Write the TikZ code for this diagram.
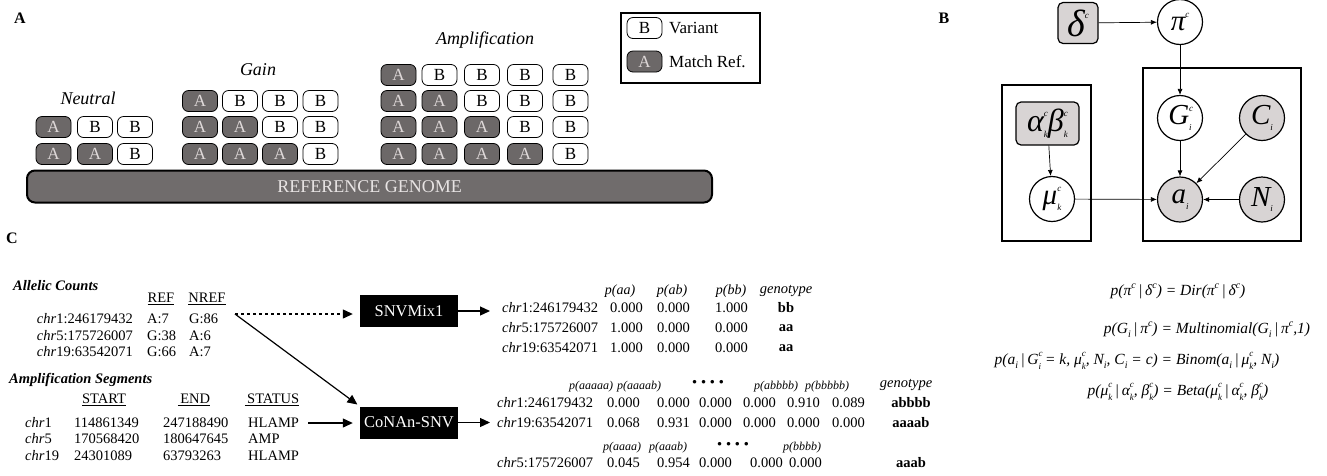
\documentclass[tikz,border=0pt]{standalone}
\usepackage{fontspec}
\setmainfont{Liberation Serif}
\usetikzlibrary{arrows.meta}
\definecolor{agray}{RGB}{108,104,104}
\definecolor{alight}{RGB}{222,216,216}
\definecolor{refgray}{RGB}{112,108,108}
\definecolor{reftext}{RGB}{232,228,228}
\definecolor{bgray}{RGB}{216,212,212}
\newcommand{\bsupsub}[2]{\rlap{\raisebox{0.45em}{\fontsize{9}{9}\selectfont #1}}\raisebox{-0.2em}{\fontsize{9}{9}\selectfont #2}}
\newcommand{\bsup}[1]{\raisebox{0.45em}{\fontsize{9}{9}\selectfont #1}}
\newcommand{\bsub}[1]{\raisebox{-0.2em}{\fontsize{9}{9}\selectfont #1}}
\newcommand{\esup}[1]{\raisebox{0.45em}{\fontsize{10}{10}\selectfont #1}}
\newcommand{\esub}[1]{\raisebox{-0.25em}{\fontsize{10}{10}\selectfont #1}}
\newcommand{\ess}[2]{\rlap{\raisebox{0.5em}{\fontsize{9}{9}\selectfont #1}}\raisebox{-0.3em}{\fontsize{9}{9}\selectfont #2}}
\begin{document}
\begin{tikzpicture}[x=1pt,y=-1pt,
  boxB/.style={draw=black, line width=0.8pt, rounded corners=6pt, minimum width=35pt, minimum height=21pt, inner sep=0pt, fill=white, font=\fontsize{17}{17}\selectfont},
  boxA/.style={boxB, fill=agray, text=alight},
  lbl/.style={font=\fontsize{16}{16}\selectfont\bfseries, inner sep=0pt},
  catlbl/.style={font=\fontsize{18}{18}\selectfont\itshape, inner sep=0pt},
  circ/.style={circle, draw, line width=1.2pt, minimum size=45pt, inner sep=0pt, fill=white, font=\fontsize{29}{29}\selectfont\itshape},
  obs/.style={circ, fill=bgray},
  plate/.style={draw, line width=2.8pt, inner sep=0pt},
  barr/.style={-{Latex[length=6pt,width=5pt]}, line width=0.7pt},
  ct/.style={font=\fontsize{14.5}{14.5}\selectfont, inner sep=0pt},
  hd/.style={font=\fontsize{12}{12}\selectfont\itshape, inner sep=0pt},
  gt/.style={font=\fontsize{14.5}{14.5}\selectfont\bfseries, inner sep=0pt},
  tool/.style={fill=black, text=white, minimum width=98pt, minimum height=32pt, inner sep=0pt, font=\fontsize{16.5}{16.5}\selectfont},
  carr/.style={-{Triangle[length=10pt,width=9pt]}, line width=1.2pt},
  eq/.style={font=\fontsize{15.5}{15.5}\selectfont\itshape, inner sep=0pt}]
\useasboundingbox (0,0) rectangle (1327,475);
% ---------------- Panel A ----------------
\node[lbl] (labA) at (20,18) {A};
\node[catlbl] (neutral) at (88,98) {Neutral};
\node[catlbl] (gain) at (258,70) {Gain};
\node[catlbl] (amp) at (485,40) {Amplification};
\foreach \r/\y in {1/127,2/154}
  \foreach \c/\x in {1/53.5,2/95,3/135}{
    \ifnum\c>\r \def\l{B}\else\def\l{A}\fi
    \node[box\l] (ne-\r-\c) at (\x,\y) {\l};}
\foreach \r/\y in {1/101,2/127,3/154}
  \foreach \c/\x in {1/200,2/240,3/280,4/320.5}{
    \ifnum\c>\r \def\l{B}\else\def\l{A}\fi
    \node[box\l] (ga-\r-\c) at (\x,\y) {\l};}
\foreach \r/\y in {1/75,2/101,3/127,4/154}
  \foreach \c/\x in {1/398.5,2/439.5,3/482,4/525,5/570.5}{
    \ifnum\c>\r \def\l{B}\else\def\l{A}\fi
    \node[box\l] (am-\r-\c) at (\x,\y) {\l};}
\node[draw=black, line width=2pt, rounded corners=8pt, fill=refgray, text=reftext,
      minimum width=685pt, minimum height=32pt, inner sep=0pt,
      font=\fontsize{18}{18}\selectfont] (ref) at (369.5,186.5) {REFERENCE GENOME};
\node[draw=black, line width=1.5pt, minimum width=139pt, minimum height=70pt, inner sep=0pt] (legend) at (690.5,48) {};
\node[boxB] (legB) at (644.5,28) {B};
\node[boxA] (legA) at (644.5,61.5) {A};
\node[anchor=west, inner sep=0pt, font=\fontsize{17}{17}\selectfont] (legBt) at (669,28) {Variant};
\node[anchor=west, inner sep=0pt, font=\fontsize{17}{17}\selectfont] (legAt) at (669,61.5) {Match Ref.};
% ---------------- Panel B ----------------
\node[lbl] (labB) at (944,18) {B};
\node[plate, minimum width=158pt, minimum height=173pt] (plateR) at (1222,154.5) {};
\node[plate, minimum width=89pt, minimum height=156pt] (plateL) at (1046.5,163) {};
\node[draw, line width=1.2pt, rounded corners=5pt, fill=bgray, minimum width=40pt, minimum height=41pt, inner sep=0pt,
      font=\fontsize{38}{38}\selectfont\itshape] (delta) at (1078,23) {δ\bsup{c}};
\node[circ] (pi) at (1180,22) {π\bsup{c}};
\node[circ] (G) at (1180,118) {G\bsupsub{c}{i}};
\node[obs] (C) at (1262,118) {C\bsub{i}};
\node[obs] (a) at (1180,199.5) {a\bsub{i}};
\node[obs] (N) at (1262,199.5) {N\bsub{i}};
\node[circ] (mu) at (1052,199) {μ\bsupsub{c}{k}};
\node[draw, line width=1.2pt, rounded corners=5pt, fill=bgray, minimum width=63pt, minimum height=43pt, inner sep=0pt,
      font=\fontsize{32}{32}\selectfont\itshape] (ab) at (1047.5,123.5) {α\bsupsub{c}{k}β\bsupsub{c}{k}};
\draw[barr] (delta) -- (pi);
\draw[barr] (pi) -- (G);
\draw[barr] (G) -- (a);
\draw[barr] (C) -- (a);
\draw[barr] (N) -- (a);
\draw[barr] (mu) -- (a);
\draw[barr] (ab) -- (mu);
% equations
\node[eq] (eq1) at (1178,291) {p(π\esup{c}\,|\,δ\esup{c}) = Dir(π\esup{c}\,|\,δ\esup{c})};
\node[eq] (eq2) at (1207,330) {p(G\esub{i}\,|\,π\esup{c}) = Multinomial(G\esub{i}\,|\,π\esup{c},1)};
\node[eq] (eq3) at (1137,361) {p(a\esub{i}\,|\,G\ess{c}{i} = k, μ\ess{c}{k}, N\esub{i}, C\esub{i} = c) = Binom(a\esub{i}\,|\,μ\ess{c}{k}, N\esub{i})};
\node[eq] (eq4) at (1178,392) {p(μ\ess{c}{k}\,|\,α\ess{c}{k}, β\ess{c}{k}) = Beta(μ\ess{c}{k}\,|\,α\ess{c}{k}, β\ess{c}{k})};
% ---------------- Panel C ----------------
\node[lbl] (labC) at (12,238) {C};
\node[ct, anchor=west, font=\fontsize{14.5}{14.5}\selectfont\bfseries\itshape] (allelic) at (13,286) {Allelic Counts};
\node[ct] (hREF) at (161,299) {\underline{REF}};
\node[ct] (hNREF) at (207,299) {\underline{NREF}};
\foreach \y/\nm/\r/\n [count=\i] in {319/\textit{chr}1:246179432/A:7/G:86, 336/\textit{chr}5:175726007/G:38/A:6, 352/\textit{chr}19:63542071/G:66/A:7}{
  \node[ct, anchor=east] (ac-\i) at (133,\y) {\nm};
  \node[ct, anchor=west] (acr-\i) at (147,\y) {\r};
  \node[ct, anchor=west] (acn-\i) at (189,\y) {\n};}
\node[ct, anchor=west, font=\fontsize{14.5}{14.5}\selectfont\bfseries\itshape] (ampseg) at (9,380) {Amplification Segments};
\node[ct] (hSTART) at (104,400) {\underline{START}};
\node[ct] (hEND) at (194,400) {\underline{\,END}};
\node[ct] (hSTATUS) at (272,400) {\underline{\,STATUS}};
\foreach \y/\ch/\s/\e/\st [count=\i] in {423/1/114861349/247188490/HLAMP, 439/5/170568420/180647645/AMP, 456/19/24301089/63793263/HLAMP}{
  \node[ct, anchor=west] (sc-\i) at (25,\y) {\textit{chr}\ch};
  \node[ct, anchor=west] (ss-\i) at (74,\y) {\s};
  \node[ct, anchor=west] (se-\i) at (163,\y) {\e};
  \node[ct, anchor=west] (st-\i) at (248,\y) {\st};}
\node[tool] (snv) at (409,311) {SNVMix1};
\node[tool] (conan) at (409,422.5) {CoNAn-SNV};
\coordinate (ac) at (235,314);
\coordinate (hl) at (308,423);
\coordinate (o1) at (490,311);
\coordinate (o2) at (490,422.5);
\draw[carr, dashed, shorten >=7pt] (ac) -- (ac -| snv.west);
\draw[carr, shorten >=3pt] (ac) -- (conan.north west);
\draw[carr, shorten >=7pt] (hl) -- (hl -| conan.west);
\draw[carr] (snv.east) -- (o1);
\draw[carr] (conan.east) -- (o2);
% output table 1
\node[ct, font=\fontsize{14}{14}\selectfont\itshape] (t1h1) at (620,291) {p(aa)};
\node[ct, font=\fontsize{14}{14}\selectfont\itshape] (t1h2) at (672,291) {p(ab)};
\node[ct, font=\fontsize{14}{14}\selectfont\itshape] (t1h3) at (731,291) {p(bb)};
\node[ct, font=\fontsize{14.5}{14.5}\selectfont\itshape] (t1h4) at (786,291) {genotype};
\foreach \y/\nm/\va/\vb/\vc/\g [count=\i] in {308/\textit{chr}1:246179432/0.000/0.000/1.000/bb, 328/\textit{chr}5:175726007/1.000/0.000/0.000/aa, 348/\textit{chr}19:63542071/1.000/0.000/0.000/aa}{
  \node[ct, anchor=west] (t1n-\i) at (502,\y) {\nm};
  \node[ct, anchor=west] (t1a-\i) at (610,\y) {\va};
  \node[ct, anchor=west] (t1b-\i) at (657,\y) {\vb};
  \node[ct, anchor=west] (t1c-\i) at (715,\y) {\vc};
  \node[gt] (t1g-\i) at (786,\y) {\g};}
% output table 2
\node[hd] (t2h1) at (591,387) {p(aaaaa)};
\node[hd] (t2h2) at (639,387) {p(aaaab)};
\node[hd, font=\fontsize{13}{13}\selectfont\bfseries] (t2d) at (708,383) {•\,\,•\,\,•\,\,•};
\node[hd] (t2h3) at (776,387) {p(abbbb)};
\node[hd] (t2h4) at (827,387) {p(bbbbb)};
\node[ct, font=\fontsize{14.5}{14.5}\selectfont\itshape] (t2h5) at (906,385) {genotype};
\foreach \y/\nm/\va/\vb/\vc/\vd/\ve/\vf/\g [count=\i] in {403/\textit{chr}1:246179432/0.000/0.000/0.000/0.000/0.910/0.089/abbbb, 423/\textit{chr}19:63542071/0.068/0.931/0.000/0.000/0.000/0.000/aaaab}{
  \node[ct, anchor=west] (t2n-\i) at (497,\y) {\nm};
  \node[ct, anchor=west] (t2a-\i) at (607,\y) {\va};
  \node[ct, anchor=west] (t2b-\i) at (657,\y) {\vb};
  \node[ct, anchor=west] (t2c-\i) at (699,\y) {\vc};
  \node[ct, anchor=west] (t2d-\i) at (743,\y) {\vd};
  \node[ct, anchor=west] (t2e-\i) at (787,\y) {\ve};
  \node[ct, anchor=west] (t2f-\i) at (832,\y) {\vf};
  \node[gt] (t2g-\i) at (911,\y) {\g};}
\node[hd] (t3h1) at (622,448) {p(aaaa)};
\node[hd] (t3h2) at (668,448) {p(aaab)};
\node[hd, font=\fontsize{13}{13}\selectfont\bfseries] (t3d) at (733,445) {•\,\,•\,\,•\,\,•};
\node[hd] (t3h3) at (802,448) {p(bbbb)};
\node[ct, anchor=west] (t3n) at (497,463) {\textit{chr}5:175726007};
\node[ct, anchor=west] (t3a) at (607,463) {0.045};
\node[ct, anchor=west] (t3b) at (657,463) {0.954};
\node[ct, anchor=west] (t3c) at (699,463) {0.000};
\node[ct, anchor=west] (t3e) at (750,463) {0.000};
\node[ct, anchor=west] (t3f) at (789,463) {0.000};
\node[gt] (t3g) at (911,463) {aaab};
\end{tikzpicture}
\end{document}
